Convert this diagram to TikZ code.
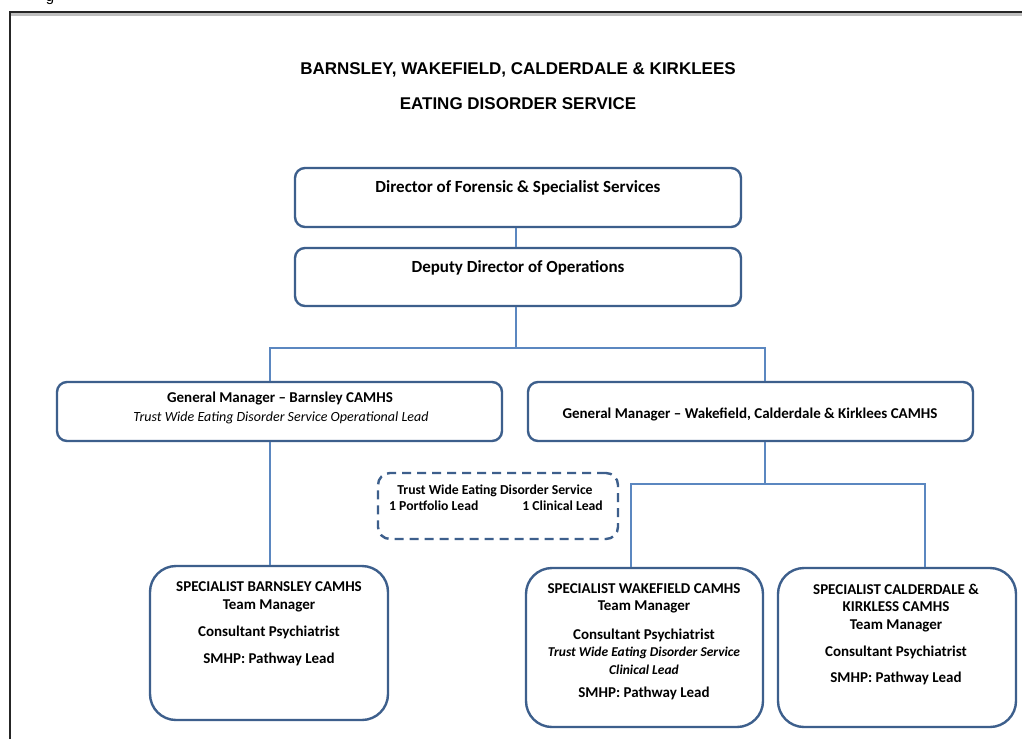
\documentclass[tikz,border=0pt]{standalone}
\usepackage{fontspec}
\setmainfont{Carlito}
\newfontfamily\titlefont{Liberation Sans}
\usetikzlibrary{positioning}
\definecolor{boxblue}{HTML}{3D5F8C}
\definecolor{linkblue}{HTML}{5B87C0}
\tikzset{
  box/.style={draw=boxblue, line width=2.4pt, rounded corners=10pt, fill=white},
  bigbox/.style={draw=boxblue, line width=2.4pt, rounded corners=26pt, fill=white},
  dashbox/.style={draw=boxblue, line width=2.4pt, dashed, dash pattern=on 9pt off 6pt, rounded corners=12pt},
  link/.style={draw=linkblue, line width=1.3pt},
  txt/.style={inner sep=0pt, font=\bfseries\fontsize{17}{19}\selectfont},
  gmtxt/.style={inner sep=0pt, font=\bfseries\fontsize{15}{17}\selectfont},
  smalltxt/.style={inner sep=0pt, font=\bfseries\fontsize{15}{17}\selectfont},
  ittxt/.style={inner sep=0pt, font=\bfseries\itshape\fontsize{13.5}{15}\selectfont},
  dtxt/.style={inner sep=0pt, font=\bfseries\fontsize{13.7}{15}\selectfont},
  ttl/.style={inner sep=0pt, font=\titlefont\bfseries\fontsize{17}{20}\selectfont}
}
\begin{document}
\begin{tikzpicture}[x=1pt,y=-1pt]
\useasboundingbox (0,0) rectangle (1022,739);
\fill[white] (0,0) rectangle (1022,739);
% frame
\fill[black!25] (10,13) rectangle (1022,15.5);
\draw[line width=2pt, black!85] (10,739) -- (10,12) -- (1022,12);
\begin{scope}
\clip (0,0) rectangle (1022,10);
\node[inner sep=0pt, anchor=base, font=\titlefont\fontsize{15}{18}\selectfont] (frag) at (50,1) {g};
\end{scope}
% title
\node[ttl] (title1) at (518,70) {BARNSLEY, WAKEFIELD, CALDERDALE \& KIRKLEES};
\node[ttl] (title2) at (518,104) {EATING DISORDER SERVICE};
% boxes
\node[box, minimum width=446pt, minimum height=59pt] (b1) at (518,197.5) {};
\node[box, minimum width=446pt, minimum height=58pt] (b2) at (518,277) {};
\node[box, minimum width=445pt, minimum height=59pt] (b3) at (279.5,411.5) {};
\node[box, minimum width=445pt, minimum height=59pt] (b4) at (750.5,411.5) {};
\node[bigbox, minimum width=238pt, minimum height=154pt] (b5) at (269,643) {};
\node[bigbox, minimum width=237pt, minimum height=159pt] (b6) at (644.5,647.5) {};
\node[bigbox, minimum width=238pt, minimum height=159pt] (b7) at (897,647.5) {};
\node[dashbox, minimum width=240pt, minimum height=66pt] (d1) at (498,506) {};
% connectors
\coordinate (j1) at (516,348);
\coordinate (j2) at (765,484);
\draw[link] (b1.south -| 516,0) -- (b2.north -| 516,0);
\draw[link] (b2.south -| j1) -- (j1);
\draw[link] (b3.north -| 270,0) |- (j1) -| (b4.north -| 765,0);
\draw[link] (b3.south -| 270,0) -- (b5.north -| 270,0);
\draw[link] (b4.south -| j2) -- (j2);
\draw[link] (b6.north -| 631,0) |- (j2) -| (b7.north -| 925,0);
% texts
\node[txt] (t1) at (518,188) {Director of Forensic \& Specialist Services};
\node[txt] (t2) at (518,268) {Deputy Director of Operations};
\node[gmtxt] (t3a) at (280,399) {General Manager – Barnsley CAMHS};
\node[inner sep=0pt, font=\itshape\fontsize{14}{16}\selectfont] (t3b) at (281,418) {Trust Wide Eating Disorder Service Operational Lead};
\node[gmtxt] (t4) at (750,414) {General Manager – Wakefield, Calderdale \& Kirklees CAMHS};
\node[dtxt] (d1a) at (495,491) {Trust Wide Eating Disorder Service};
\node[dtxt, anchor=west] (d1b) at (389,506) {1 Portfolio Lead};
\node[dtxt, anchor=east] (d1c) at (603,506) {1 Clinical Lead};
% box 5
\node[smalltxt] (t5a) at (269,587) {SPECIALIST BARNSLEY CAMHS};
\node[smalltxt] (t5b) at (269,606) {Team Manager};
\node[smalltxt] (t5c) at (269,632) {Consultant Psychiatrist};
\node[smalltxt] (t5d) at (269,659) {SMHP: Pathway Lead};
% box 6
\node[smalltxt] (t6a) at (644,589) {SPECIALIST WAKEFIELD CAMHS};
\node[smalltxt] (t6b) at (644,607) {Team Manager};
\node[smalltxt] (t6c) at (644,635) {Consultant Psychiatrist};
\node[ittxt] (t6d) at (644,653) {Trust Wide Eating Disorder Service};
\node[ittxt] (t6e) at (644,670) {Clinical Lead};
\node[smalltxt] (t6f) at (644,693) {SMHP: Pathway Lead};
% box 7
\node[smalltxt] (t7a) at (896,589) {SPECIALIST CALDERDALE \&};
\node[smalltxt] (t7b) at (896,607) {KIRKLESS CAMHS};
\node[smalltxt] (t7c) at (896,626) {Team Manager};
\node[smalltxt] (t7d) at (896,652) {Consultant Psychiatrist};
\node[smalltxt] (t7e) at (896,678) {SMHP: Pathway Lead};
\end{tikzpicture}
\end{document}
